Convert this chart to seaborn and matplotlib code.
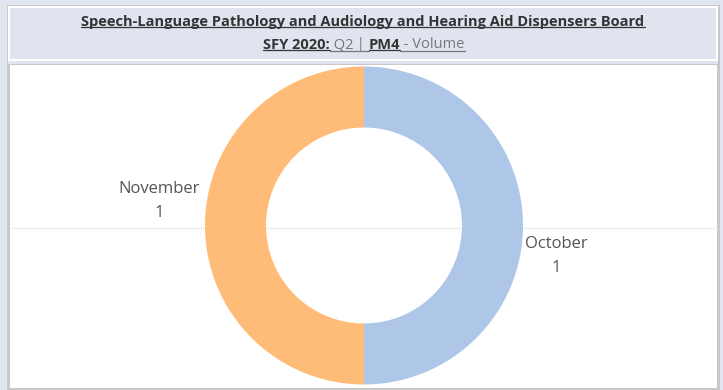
import matplotlib
matplotlib.use("Agg")
import matplotlib.pyplot as plt
from matplotlib.patches import Rectangle
from matplotlib.lines import Line2D
import seaborn as sns

sns.set_theme(style="white")
plt.rcParams["font.family"] = ["Open Sans", "DejaVu Sans"]

# Data
months = ["October", "November"]
volumes = [1, 1]
title_line = "Speech-Language Pathology and Audiology and Hearing Aid Dispensers Board"
subtitle_parts = [("SFY 2020:", "bold", "#333333"), (" Q2", "normal", "#777777"),
                  (" | ", "normal", "#777777"), ("PM4", "bold", "#333333"),
                  (" - Volume", "normal", "#777777")]

pal = sns.color_palette("tab20")
colors = [pal[1], pal[3]]  # light blue, light orange

W, H = 723, 390
fig = plt.figure(figsize=(W / 100, H / 100), dpi=100)
fig.patch.set_facecolor("#e1e5ef")


def px_rect(x0, y0, x1, y1, **kw):
    fig.patches.append(Rectangle((x0 / W, 1 - y1 / H), (x1 - x0) / W, (y1 - y0) / H,
                                 transform=fig.transFigure, zorder=-5, **kw))


# frame and panels
px_rect(7, 5, 720, 390, facecolor="#c8c8c8", edgecolor="none")
px_rect(8, 6, 718, 61, facecolor="#ffffff", edgecolor="none")
px_rect(10, 8, 716, 59, facecolor="#e0e4ef", edgecolor="none")
px_rect(8, 61, 718, 64, facecolor="#e1e5ef", edgecolor="none")
px_rect(10, 65, 717, 388, facecolor="#ffffff", edgecolor="none")

# faint horizontal reference line
fig.lines.append(Line2D([10 / W, 717 / W], [1 - 228 / H, 1 - 228 / H],
                        transform=fig.transFigure, color="#efefef", lw=1, zorder=-4))

# donut
cx, cy, r = 364, 225.5, 159
ax = fig.add_axes([(cx - r) / W, 1 - (cy + r) / H, 2 * r / W, 2 * r / H])
ax.set_zorder(2)
ax.set_facecolor("none")
wedges, _ = ax.pie(volumes, colors=colors, startangle=90, counterclock=False,
                   radius=1, wedgeprops=dict(width=1 - 98 / 159, edgecolor="none"))
ax.set_xlim(-1, 1)
ax.set_ylim(-1, 1)
ax.set_aspect("equal")
ax.axis("off")

label_pos = {"October": (1.21, -0.19), "November": (-1.29, 0.155)}
for m, v in zip(months, volumes):
    x, y = label_pos[m]
    ax.text(x, y, f"{m}\n{v}", ha="center", va="center", fontsize=12,
            color="#555555", linespacing=1.65, clip_on=False)

# header text with underlines
fig.canvas.draw()
renderer = fig.canvas.get_renderer()
t = fig.text(363 / W, 1 - 22 / H, title_line, ha="center", va="center",
             fontsize=10.5, fontweight="bold", color="#333333")
bb = t.get_window_extent(renderer)
fig.lines.append(Line2D([bb.x0 / W, bb.x1 / W], [(bb.y0 + 2) / H] * 2,
                        transform=fig.transFigure, color="#333333", lw=0.9))

# subtitle assembled from pieces
pieces = []
for txt, wt, col in subtitle_parts:
    pt = fig.text(0, 1 - 45 / H, txt, ha="left", va="center", fontsize=10.5,
                  fontweight=wt, color=col)
    pieces.append(pt)
widths = [p.get_window_extent(renderer).width for p in pieces]
total = sum(widths)
x = 364 - total / 2
for p, w in zip(pieces, widths):
    p.set_x(x / W)
    b = p.get_window_extent(renderer)
    fig.lines.append(Line2D([x / W, (x + w) / W], [(b.y0 + 2) / H] * 2,
                            transform=fig.transFigure, color=p.get_color(), lw=0.9))
    x += w

fig.savefig("out.png", dpi=100, facecolor=fig.get_facecolor())
